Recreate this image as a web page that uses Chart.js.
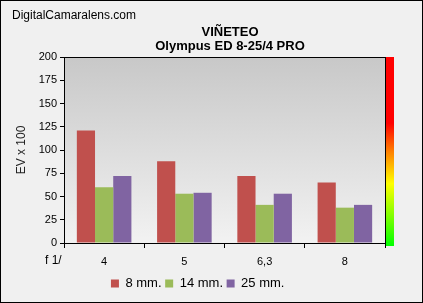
<!DOCTYPE html>
<html>
<head>
<meta charset="utf-8">
<script src="https://cdn.jsdelivr.net/npm/chart.js@4.4.0/dist/chart.umd.min.js"></script>
<style>
  html, body { margin: 0; padding: 0; background: #f0f0f0; }
  #wrap { width: 423px; height: 303px; }
</style>
</head>
<body>
<div id="wrap"><canvas id="vignette" width="423" height="303"></canvas></div>
<script>
// f-stops and vignetting values (EV x 100) per focal length
const apertures = ['4', '5', '6,3', '8'];
const vign8mm = [121, 88, 72, 65];
const vign14mm = [60, 53, 41, 38];
const vign25mm = [72, 54, 53, 41];
const yTicks = [0, 25, 50, 75, 100, 125, 150, 175, 200];

const FONT = 'Liberation Sans, Arial, sans-serif';

// background, outer frame, plot gradient, colour bar and texts
const decor = {
    id: 'decor',
    beforeDraw(chart) {
        const { ctx, chartArea: a } = chart;
        ctx.save();
        ctx.fillStyle = '#f0f0f0';
        ctx.fillRect(0, 0, chart.width, chart.height);
        ctx.strokeStyle = '#000';
        ctx.lineWidth = 1;
        ctx.strokeRect(0.5, 0.5, chart.width - 1, chart.height - 1);

        const g = ctx.createLinearGradient(0, a.top, 0, a.bottom);
        g.addColorStop(0, '#c8c8c8');
        g.addColorStop(1, '#f2f2f2');
        ctx.fillStyle = g;
        ctx.fillRect(a.left, a.top, a.right - a.left, a.bottom - a.top);
        ctx.restore();
    },
    afterDraw(chart) {
        const { ctx, chartArea: a } = chart;
        ctx.save();
        // plot border
        ctx.strokeStyle = '#000';
        ctx.lineWidth = 1;
        ctx.strokeRect(Math.round(a.left) + 0.5, Math.round(a.top) + 0.5,
            Math.round(a.right - a.left), Math.round(a.bottom - a.top));

        // colour bar on the right edge
        const cb = ctx.createLinearGradient(0, a.top, 0, a.bottom + 3);
        cb.addColorStop(0, '#ff0000');
        cb.addColorStop(0.35, '#ff0000');
        cb.addColorStop(0.5, '#ff8000');
        cb.addColorStop(0.67, '#ffff00');
        cb.addColorStop(0.84, '#80ff00');
        cb.addColorStop(1, '#00ff00');
        ctx.fillStyle = cb;
        ctx.fillRect(Math.round(a.right) + 1, a.top, 8, a.bottom - a.top + 3);

        ctx.fillStyle = '#000';
        ctx.textBaseline = 'middle';
        ctx.font = '12px ' + FONT;
        ctx.textAlign = 'left';
        ctx.fillText('DigitalCamaralens.com', 12, 16);
        ctx.fillText('f 1/', 45, 261);

        ctx.textAlign = 'center';
        ctx.font = 'bold 13px ' + FONT;
        ctx.fillText('VIÑETEO', 230, 32);
        ctx.fillText('Olympus ED 8-25/4 PRO', 230, 46);
        ctx.restore();
    }
};

new Chart(document.getElementById('vignette'), {
    type: 'bar',
    data: {
        labels: apertures,
        datasets: [
            { label: '8 mm.', data: vign8mm, backgroundColor: '#c0504d' },
            { label: '14 mm.', data: vign14mm, backgroundColor: '#9bbb59' },
            { label: '25 mm.', data: vign25mm, backgroundColor: '#8064a2' }
        ]
    },
    plugins: [decor],
    options: {
        responsive: false,
        animation: false,
        layout: { padding: { left: 14, right: 38, top: 57, bottom: 3 } },
        datasets: { bar: { categoryPercentage: 0.68, barPercentage: 1 } },
        plugins: {
            legend: {
                position: 'bottom',
                labels: {
                    boxWidth: 8, boxHeight: 8, padding: 0,
                    color: '#000', font: { family: FONT, size: 13 },
                    generateLabels(chart) {
                        // tighter spacing than the default legend
                        return Chart.defaults.plugins.legend.labels.generateLabels(chart)
                            .map(l => ({ ...l, text: l.text + ' ' }));
                    }
                }
            },
            tooltip: { enabled: false }
        },
        scales: {
            x: {
                grid: { display: true, drawOnChartArea: false, offset: true, tickLength: 5, color: '#000' },
                border: { display: false },
                ticks: { color: '#000', font: { family: FONT, size: 11 }, padding: 7 },
                afterFit(s) { s.height = 34; }
            },
            y: {
                min: 0, max: 200,
                afterBuildTicks(s) { s.ticks = yTicks.map(v => ({ value: v })); },
                grid: { display: true, drawOnChartArea: false, tickLength: 4, color: '#000' },
                border: { display: false },
                ticks: { color: '#000', font: { family: FONT, size: 11 }, padding: 3 },
                title: { display: true, text: 'EV x 100', color: '#222', font: { family: FONT, size: 12 }, padding: 0 },
                afterFit(s) { s.width = 50; }
            }
        }
    }
});
</script>
</body>
</html>
